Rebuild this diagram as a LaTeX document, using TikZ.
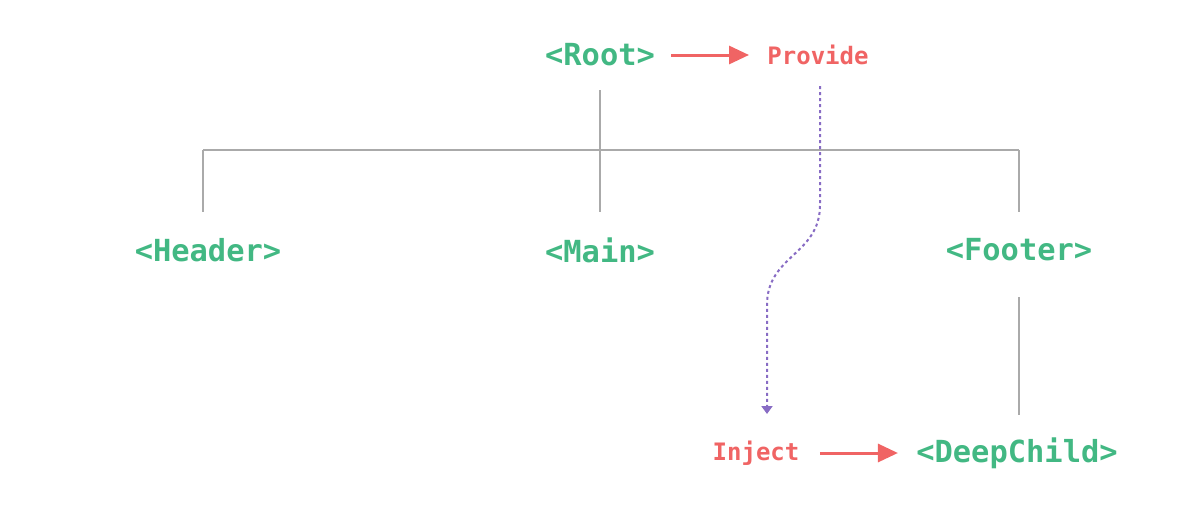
\documentclass[tikz,border=0pt]{standalone}
\usepackage{fontspec}
\setmonofont{DejaVu Sans Mono}
\usepackage{xcolor}
\usetikzlibrary{arrows.meta,positioning,calc}
\definecolor{vuegreen}{RGB}{66,184,131}
\definecolor{hookred}{RGB}{240,100,100}
\definecolor{flowpurple}{RGB}{136,108,196}
\definecolor{treegray}{RGB}{170,170,170}

\begin{document}
\begin{tikzpicture}[x=0.5pt, y=-0.5pt,
    comp/.style={inner sep=0pt, text=vuegreen, font=\ttfamily\bfseries\fontsize{15.2}{18}\selectfont},
    hook/.style={inner sep=0pt, text=hookred, font=\ttfamily\bfseries\fontsize{12}{14}\selectfont},
    tree/.style={draw=treegray, line width=1pt},
    pass/.style={draw=hookred, line width=1.5pt, -{Triangle[length=10pt,width=9pt]}},
    flow/.style={draw=flowpurple, line width=1pt, dash pattern=on 1.5pt off 1.5pt, -{Triangle[length=4pt,width=5.5pt]}}]
    \useasboundingbox (0,0) rectangle (1200,509);
    % components
    \node[comp] (root) at (600,55) {<Root>};
    \node[comp] (header) at (208,250) {<Header>};
    \node[comp] (main) at (600,250) {<Main>};
    \node[comp] (footer) at (1019,250) {<Footer>};
    \node[comp] (deep) at (1017,453) {<DeepChild>};
    % provide / inject
    \node[hook] (provide) at (818,55) {Provide};
    \node[hook] (inject) at (756,453) {Inject};
    % tree
    \coordinate (bus-l) at (203,150);
    \coordinate (bus-r) at (1019,150);
    \draw[tree] (root.center) -- (main.center) [shorten <=17.5pt, shorten >=19pt];
    \draw[tree] (bus-l) -- (bus-r);
    \draw[tree, shorten >=19pt] (bus-l) -- (bus-l |- header.center);
    \draw[tree, shorten >=19pt] (bus-r) -- (footer.center);
    \draw[tree, shorten <=23.5pt, shorten >=19pt] (footer.center) -- (footer.center |- deep.center);
    % arrows
    \draw[pass, shorten <=8pt, shorten >=9pt] (root) -- (provide);
    \draw[pass, shorten <=10pt, shorten >=9pt] (inject) -- (deep);
    \coordinate (flow-start) at (820,86);
    \coordinate (flow-end) at (767,414);
    \draw[flow] (flow-start) -- (820,205) .. controls (820,255) and (767,255) .. (767,305) -- (flow-end);
\end{tikzpicture}
\end{document}
